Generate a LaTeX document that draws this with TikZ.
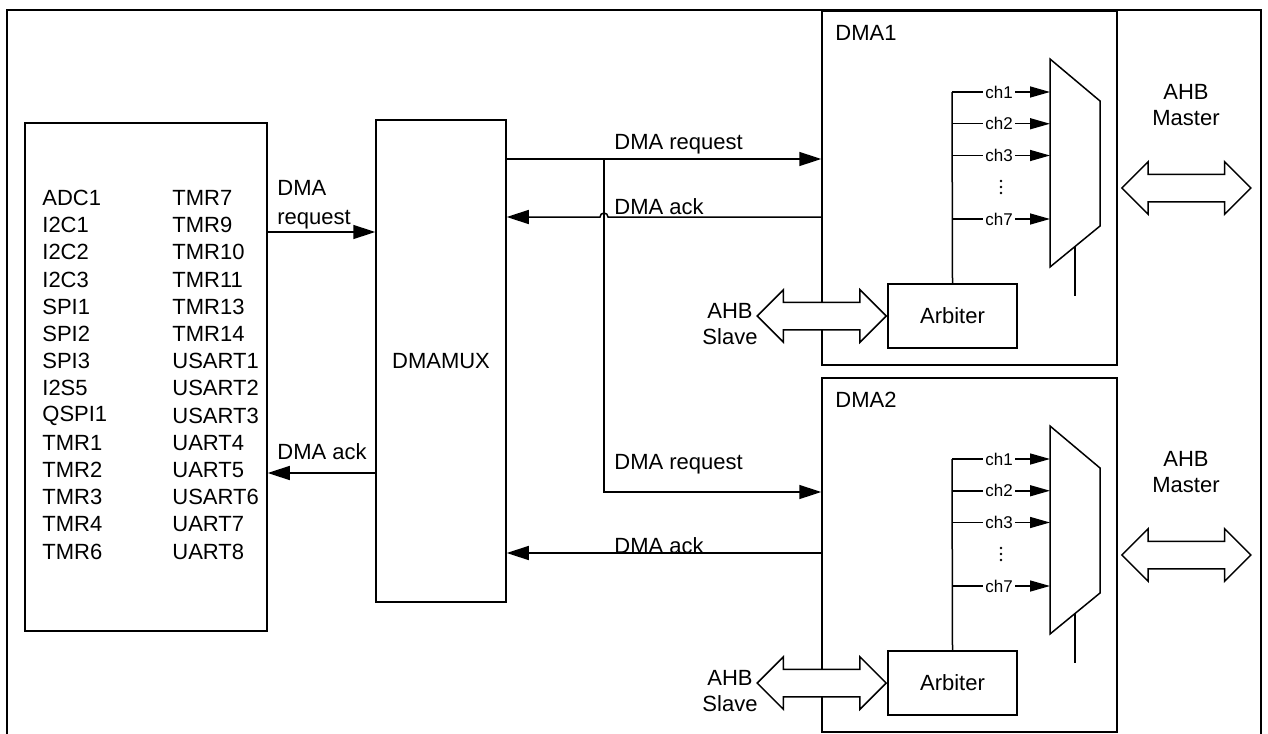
\documentclass[tikz,border=0pt]{standalone}
\usepackage{fontspec}
\setmainfont{Liberation Sans}
\usetikzlibrary{arrows.meta,calc,positioning,shapes.arrows}

\begin{document}
\begin{tikzpicture}[x=0.5pt,y=-0.5pt,
  font=\fontsize{11}{13}\selectfont,
  blk/.style={draw,line width=0.75pt,inner sep=0pt},
  sig/.style={line width=0.75pt,-{Triangle[length=11pt,width=7pt]}},
  chan/.style={line width=0.75pt,-{Triangle[length=10pt,width=5.5pt]}},
  bus/.style={draw,line width=0.75pt,fill=white,double arrow,
    double arrow head extend=6.25pt,minimum width=25.5pt,
    minimum height=64.5pt,inner xsep=0pt,inner ysep=6.5pt},
  lbl/.style={inner sep=0pt},
  chl/.style={fill=white,inner sep=1pt,font=\fontsize{8.5}{9}\selectfont}]

  \useasboundingbox (0,0) rectangle (1268,733);

  % outer frame
  \draw[line width=1.2pt] (7,740) -- (7,10) -- (1261,10) -- (1261,740);

  % peripherals
  \node[blk,minimum width=121pt,minimum height=254pt] (periph) at (146,377) {};
  \foreach \a/\b [count=\i] in {ADC1/TMR7,I2C1/TMR9,I2C2/TMR10,I2C3/TMR11,
      SPI1/TMR13,SPI2/TMR14,SPI3/USART1,I2S5/USART2,QSPI1/USART3,
      TMR1/UART4,TMR2/UART5,TMR3/USART6,TMR4/UART7,TMR6/UART8}{
    \node[lbl,anchor=west] (pa\i) at (42,{198+27.2*(\i-1)}) {\a};
    \node[lbl,anchor=west] (pb\i) at (172,{198+27.2*(\i-1)}) {\b};
  }

  % DMAMUX
  \node[blk,minimum width=65pt,minimum height=241pt] (dmamux) at (441,361) {DMAMUX};

  % DMA1 and DMA2
  \foreach \k/\dy in {1/0,2/367}{
    \node[blk,minimum width=147.5pt,minimum height=177pt] (dma\k) at (969.5,188+\dy) {};
    \node[lbl,anchor=west] (dmat\k) at (835,33+\dy) {DMA\k};
    \node[blk,minimum width=64.5pt,minimum height=32pt] (arb\k) at (952.5,316+\dy) {Arbiter};
    % channel selector
    \draw[line width=0.75pt] (1050,59+\dy) coordinate (sel\k) -- (1100,101+\dy)
      -- (1100,226+\dy) -- (1050,267+\dy) -- cycle;
    \draw[line width=0.75pt] (1075,247+\dy) -- (1075,296+\dy);
    \draw[line width=0.75pt] (arb\k.north) -- (952,92+\dy);
    \foreach \c/\j in {1/0,2/1,3/2,7/4}
      \draw[chan] (952,92+31.75*\j+\dy) -- node[chl,pos=0.48] (ch\k\c) {ch\c} (sel\k |- 0,92+31.75*\j+\dy);
    % dots between ch3 and ch7
    \foreach \d in {181,187,193}
      \fill (1001,\d+\dy) circle (0.65pt);
    % AHB ports
    \node[bus,anchor=east] (slv\k) at (arb\k.west) {};
    \node[lbl,align=center] (slvt\k) at (730,324+\dy) {AHB\\Slave};
    \node[bus,anchor=west,xshift=1.5pt] (mst\k) at (dma\k.east) {};
    \node[lbl,align=center] (mstt\k) at (1186,105+\dy) {AHB\\Master};
  }

  % request / ack lines
  \coordinate (rq0) at (periph.east |- 0,232);
  \coordinate (ak0) at (dmamux.west |- 0,473);
  \coordinate (rq1) at (dma1.west |- 0,159);
  \coordinate (ak1) at (dma1.west |- 0,217);
  \coordinate (rq2) at (dma2.west |- 0,492);
  \coordinate (ak2) at (dma2.west |- 0,553);
  \coordinate (tap) at (604,159);

  \draw[sig] (rq0) -- (dmamux.west |- rq0);
  \draw[sig] (ak0) -- (periph.east |- ak0);
  \draw[sig] (dmamux.east |- rq1) -- (rq1);
  \draw[sig] (ak1) -- (608,217) arc[start angle=0,end angle=180,radius=2pt]
    -- (dmamux.east |- ak1);
  \draw[sig] (tap) |- (rq2);
  \draw[sig] (ak2) -- (dmamux.east |- ak2);

  \node[lbl,anchor=west,align=left,font=\fontsize{11}{14.5}\selectfont] (rqt0) at (277,205) {DMA\\request};
  \node[lbl,anchor=west] (akt0) at (277,452) {DMA ack};
  \node[lbl,anchor=west] (rqt1) at (614,144) {DMA request};
  \node[lbl,anchor=west] (akt1) at (614,207) {DMA ack};
  \node[lbl,anchor=west] (rqt2) at (614,464) {DMA request};
  \node[lbl,anchor=west] (akt2) at (614,546) {DMA ack};
\end{tikzpicture}
\end{document}
